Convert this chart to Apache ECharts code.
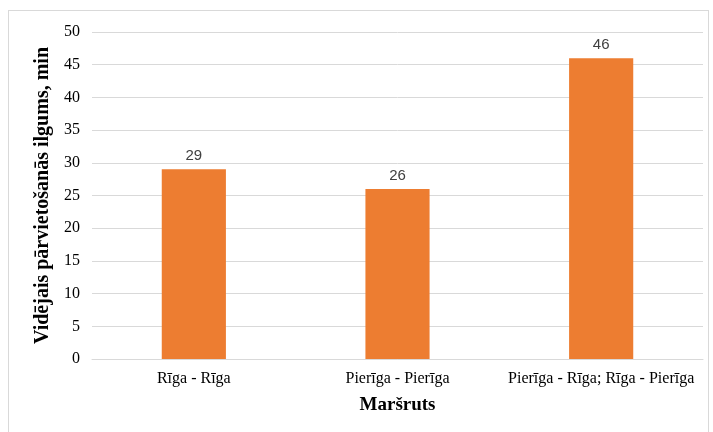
<!DOCTYPE html>
<html>
<head>
<meta charset="utf-8">
<script src="https://cdn.jsdelivr.net/npm/echarts@6/dist/echarts.min.js"></script>
<style>
  html, body { margin: 0; padding: 0; background: #fff; }
  #frame { position: absolute; left: 8px; top: 10px; width: 701px; height: 430px; border: 1px solid #d9d9d9; box-sizing: border-box; }
  #chart { position: absolute; left: 0; top: 0; width: 713px; height: 432px; }
</style>
</head>
<body>
<div id="frame"></div>
<div id="chart"></div>
<script>
// Average travel duration per route
const routes = ['Rīga - Rīga', 'Pierīga - Pierīga', 'Pierīga - Rīga; Rīga - Pierīga'];
const durations = [29, 26, 46];
const yTicks = [0, 5, 10, 15, 20, 25, 30, 35, 40, 45, 50];

const serif = '"Liberation Serif", "Times New Roman", serif';
const chart = echarts.init(document.getElementById('chart'), null, { renderer: 'canvas' });
chart.setOption({
  animation: false,
  grid: { left: 92, right: 10, top: 32, bottom: 73, containLabel: false },
  xAxis: {
    type: 'category',
    data: routes,
    name: 'Maršruts',
    nameLocation: 'middle',
    nameGap: 37,
    nameTextStyle: { fontFamily: serif, fontSize: 19, fontWeight: 'bold', color: '#000' },
    axisLine: { lineStyle: { color: '#d9d9d9', width: 1 } },
    axisTick: { show: false },
    axisLabel: { fontFamily: serif, fontSize: 16, color: '#000', margin: 12, interval: 0, hideOverlap: false }
  },
  yAxis: {
    type: 'value',
    min: yTicks[0],
    max: yTicks[yTicks.length - 1],
    interval: 5,
    name: 'Vidējais pārvietošanās ilgums, min',
    nameLocation: 'middle',
    nameGap: 37,
    nameTextStyle: { fontFamily: serif, fontSize: 20, fontWeight: 'bold', color: '#000' },
    axisLine: { show: false },
    axisTick: { show: false },
    axisLabel: { fontFamily: serif, fontSize: 16, color: '#000', margin: 12 },
    splitLine: { lineStyle: { color: '#d9d9d9', width: 1 } }
  },
  series: [{
    type: 'bar',
    data: durations,
    barWidth: '31.5%',
    itemStyle: { color: '#ed7d31' },
    label: {
      show: true,
      position: 'top',
      distance: 6,
      fontFamily: '"Liberation Sans", Arial, sans-serif',
      fontSize: 15,
      color: '#404040'
    }
  }]
});
</script>
</body>
</html>
